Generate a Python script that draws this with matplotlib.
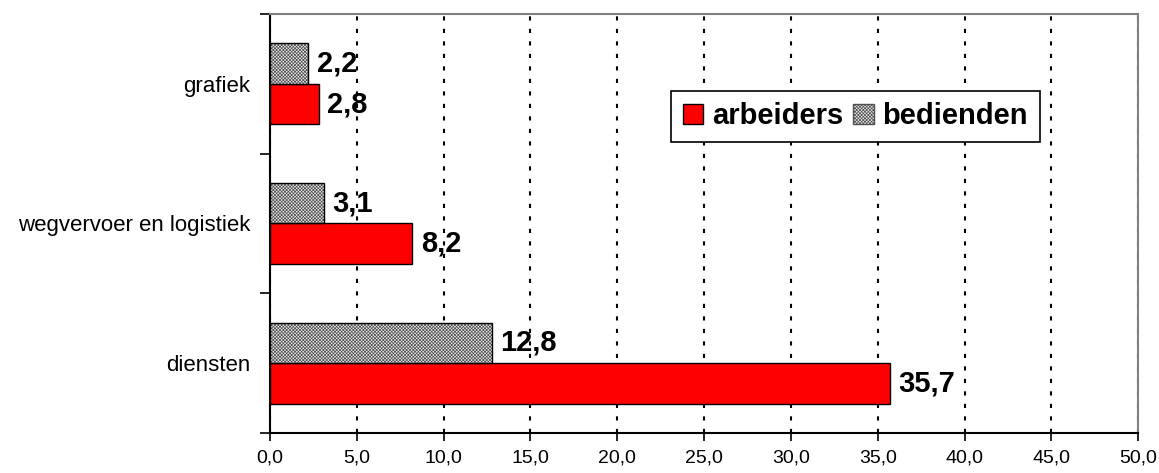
import numpy as np
import matplotlib.pyplot as plt
from matplotlib.patches import Patch
from matplotlib.ticker import FixedLocator, NullFormatter

plt.rcParams['font.family'] = ['Liberation Sans', 'DejaVu Sans']
plt.rcParams['hatch.linewidth'] = 0.5

# data (bottom to top)
sectors = ['diensten', 'wegvervoer en logistiek', 'grafiek']
arbeiders = [35.7, 8.2, 2.8]
bedienden = [12.8, 3.1, 2.2]
xticks = [0, 5, 10, 15, 20, 25, 30, 35, 40, 45, 50]


def comma(v):
    return f'{v:.1f}'.replace('.', ',')


fig = plt.figure(figsize=(11.59, 4.73), dpi=100)
ax = fig.add_axes([0.233, 0.0846, 0.749, 0.8858])

y = np.arange(len(sectors))
h = 0.29
HATCH = 'xxxxxxxxxx'

# arbeiders: red bars below
b1 = ax.barh(y - h / 2, arbeiders, height=h, color='#ff0000',
             edgecolor='black', linewidth=1.0, zorder=3)
# bedienden: fine grey hatch, then black outline on top
ax.barh(y + h / 2, bedienden, height=h, color='#e8e8e8',
        edgecolor='#505050', hatch=HATCH, linewidth=0, zorder=3)
b2 = ax.barh(y + h / 2, bedienden, height=h, fill=False,
             edgecolor='black', linewidth=1.0, zorder=4)

ax.bar_label(b1, labels=[comma(v) for v in arbeiders], padding=6,
             fontsize=21, fontweight='bold')
ax.bar_label(b2, labels=[comma(v) for v in bedienden], padding=6,
             fontsize=21, fontweight='bold')

ax.set_xlim(0, 50)
ax.set_ylim(-0.5, len(sectors) - 0.5)

# x axis
ax.set_xticks(xticks)
ax.set_xticklabels([comma(v) for v in xticks], fontsize=14)
ax.tick_params(axis='x', direction='out', length=6, width=1.2, pad=6)
ax.xaxis.grid(True, color='black', linestyle=(0, (2, 4)), linewidth=1.5, zorder=0)

# y axis: ticks between categories, labels centred
ax.yaxis.set_major_locator(FixedLocator(np.arange(-0.5, len(sectors), 1.0)))
ax.yaxis.set_major_formatter(NullFormatter())
ax.yaxis.set_minor_locator(FixedLocator(y))
ax.set_yticklabels(sectors, minor=True, fontsize=16)
ax.tick_params(axis='y', which='major', direction='out', length=7, width=1.2)
ax.tick_params(axis='y', which='minor', length=0, pad=14)

for side in ['left', 'bottom']:
    ax.spines[side].set_color('black')
    ax.spines[side].set_linewidth(1.5)
for side in ['top', 'right']:
    ax.spines[side].set_color('#808080')
    ax.spines[side].set_linewidth(1.5)

# legend
handles = [Patch(facecolor='#ff0000', edgecolor='black', linewidth=1.0),
           Patch(facecolor='#e8e8e8', edgecolor='#505050', hatch=HATCH, linewidth=1.0)]
leg = ax.legend(handles, ['arbeiders', 'bedienden'], ncol=2,
                loc='upper left', bbox_to_anchor=(0.579, 0.808),
                bbox_transform=fig.transFigure,
                prop={'weight': 'bold', 'size': 21},
                handlelength=0.7, handleheight=0.7, handletextpad=0.3,
                columnspacing=0.35, borderpad=0.4, borderaxespad=0,
                fancybox=False, framealpha=1, edgecolor='black')
leg.get_frame().set_linewidth(1.2)
leg.set_zorder(5)

fig.savefig('out.png', dpi=100)
